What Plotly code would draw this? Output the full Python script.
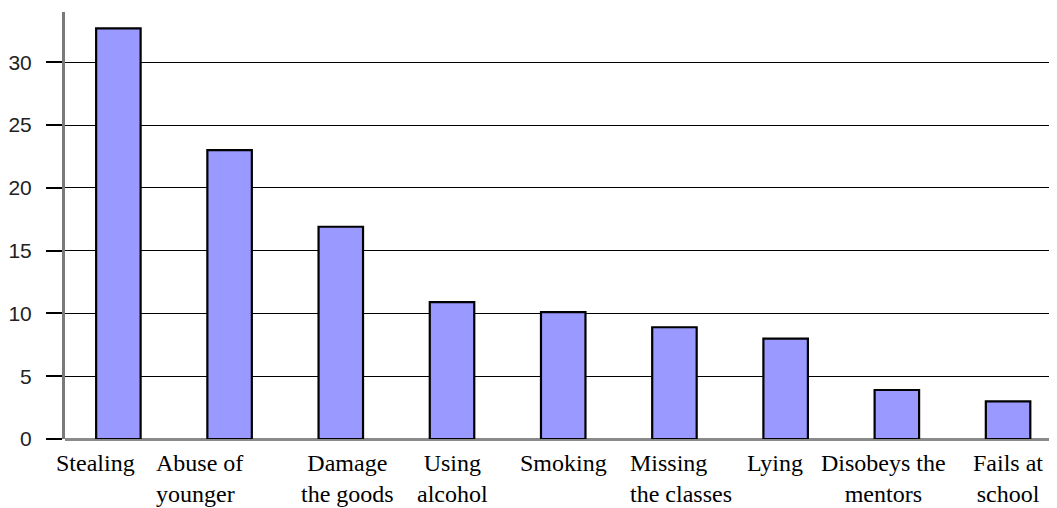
import plotly.graph_objects as go

categories = ["Stealing", "Abuse of<br>younger", "Damage<br>the goods", "Using<br>alcohol",
              "Smoking", "Missing<br>the classes", "Lying", "Disobeys the<br>mentors", "Fails at<br>school"]
values = [32.7, 23.0, 16.9, 10.9, 10.1, 8.9, 8.0, 3.9, 3.0]
y_ticks = [0, 5, 10, 15, 20, 25, 30]

# label styling (horizontal nudge in px and alignment), not data
label_shift = [-23, -30, 7, 0, 0, 7, -11, -13, 0]
label_align = ["center", "left", "center", "center", "center", "left", "center", "center", "center"]

x_idx = list(range(len(categories)))

fig = go.Figure()
fig.add_trace(go.Bar(
    x=x_idx, y=values, width=0.4,
    marker=dict(color="#9999FF", line=dict(color="black", width=2.2)),
    hoverinfo="skip",
))

for i, (lab, sh, al) in enumerate(zip(categories, label_shift, label_align)):
    fig.add_annotation(
        x=i, y=0, xref="x", yref="y", text=lab, showarrow=False,
        xanchor="center", yanchor="top", align=al, xshift=sh, yshift=-9,
        font=dict(family="Liberation Serif, Times New Roman, serif", size=24, color="black"),
    )

fig.update_layout(
    width=1049, height=500,
    margin=dict(l=57, r=0, t=4, b=69),
    paper_bgcolor="white", plot_bgcolor="white",
    showlegend=False,
    bargap=0.6,
)
fig.update_xaxes(
    range=[-0.48, 8.44], showticklabels=False, showgrid=False, zeroline=False,
    showline=False, ticks="", fixedrange=True,
)
fig.update_yaxes(
    range=[0, 34], tickvals=y_ticks, ticktext=[str(v) for v in y_ticks],
    showgrid=True, gridcolor="black", gridwidth=1.3,
    zeroline=True, zerolinecolor="#8a8a8a", zerolinewidth=3,
    showline=True, linecolor="#7a7a7a", linewidth=3,
    ticks="outside", ticklen=16, tickcolor="black", tickwidth=1.5,
    ticklabelstandoff=10,
    tickfont=dict(family="Liberation Sans, Arial, sans-serif", size=21, color="#222"),
    fixedrange=True,
)

fig.write_html("out.html")
